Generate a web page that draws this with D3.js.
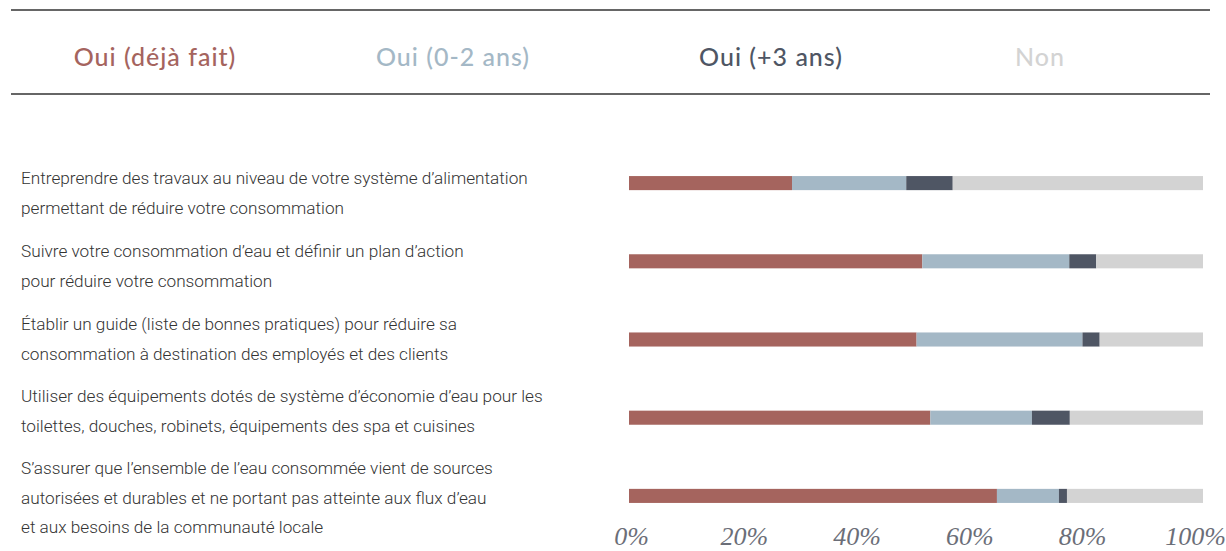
<!DOCTYPE html>
<html>
<head>
<meta charset="utf-8">
<script src="https://cdn.jsdelivr.net/npm/d3@7"></script>
<style>
  html, body { margin: 0; padding: 0; background: #ffffff; }
  svg { display: block; }
</style>
</head>
<body>
<svg id="chart" width="1226" height="551"></svg>
<script>
// ---------- data ----------
const categories = [
  ["Entreprendre des travaux au niveau de votre système d’alimentation", "permettant de réduire votre consommation"],
  ["Suivre votre consommation d’eau et définir un plan d’action", "pour réduire votre consommation"],
  ["Établir un guide (liste de bonnes pratiques) pour réduire sa", "consommation à destination des employés et des clients"],
  ["Utiliser des équipements dotés de système d’économie d’eau pour les", "toilettes, douches, robinets, équipements des spa et cuisines"],
  ["S’assurer que l’ensemble de l’eau consommée vient de sources", "autorisées et durables et ne portant pas atteinte aux flux d’eau", "et aux besoins de la communauté locale"]
];
const seriesNames = ["Oui (déjà fait)", "Oui (0-2 ans)", "Oui (+3 ans)", "Non"];
const ouiDejaFait = [28.4, 51.1, 50.1, 52.5, 64.1];
const oui02ans    = [19.9, 25.6, 28.9, 17.7, 10.8];
const oui3ans     = [8.1, 4.7, 3.0, 6.6, 1.4];
const non         = [43.6, 18.6, 18.0, 23.2, 23.7];
const tickValues  = [0, 20, 40, 60, 80, 100];
const colors      = ["#a5645e", "#a4b8c6", "#4f5664", "#d3d3d3"];

// ---------- layout ----------
const svg = d3.select("#chart");

// legend frame lines
[10, 94].forEach(yy => {
  svg.append("line").attr("x1", 11).attr("x2", 1210).attr("y1", yy).attr("y2", yy)
    .attr("stroke", "#333333").attr("stroke-width", 1.4);
});

const legendCenters = [155, 453, 771, 1040];
svg.append("g").selectAll("text").data(seriesNames).join("text")
  .attr("x", (d, i) => legendCenters[i])
  .attr("y", 66)
  .attr("text-anchor", "middle")
  .attr("font-family", "Lato, 'Open Sans', sans-serif")
  .attr("font-weight", 500)
  .attr("font-size", 25)
  .attr("letter-spacing", 1)
  .attr("fill", (d, i) => colors[i])
  .text(d => d);

// bars
const x = d3.scaleLinear().domain([0, 100]).range([629, 1203]);
const y = d3.scaleBand().domain(d3.range(categories.length)).range([144, 535]).paddingInner(0.82).paddingOuter(0.41);

const rows = categories.map((c, i) => ({
  i, values: [ouiDejaFait[i], oui02ans[i], oui3ans[i], non[i]]
}));
const stack = d3.stack().keys([0, 1, 2, 3]).value((d, k) => d.values[k]);
const stacked = stack(rows);

svg.append("g").selectAll("g").data(stacked).join("g")
  .attr("fill", (d, k) => colors[k])
  .selectAll("rect").data(d => d).join("rect")
  .attr("x", d => x(d[0]))
  .attr("width", d => Math.max(0, x(Math.min(100, d[1])) - x(d[0])))
  .attr("y", d => y(d.data.i))
  .attr("height", y.bandwidth());

// category labels
const labelStartY = [184, 257, 330, 402, 474];
const lab = svg.append("g");
categories.forEach((lines, i) => {
  const t = lab.append("text")
    .attr("x", 21)
    .attr("y", labelStartY[i])
    .attr("font-family", "Roboto, sans-serif")
    .attr("font-weight", 300)
    .attr("font-size", 17.2)
    .attr("fill", "#333333");
  lines.forEach((ln, j) => {
    t.append("tspan").attr("x", 21).attr("dy", j === 0 ? 0 : 29.5).text(ln);
  });
});

// axis
const xAxisScale = x.copy().range([631, 1195]);
const axis = d3.axisBottom(xAxisScale).tickValues(tickValues).tickSize(0).tickPadding(0)
  .tickFormat(d => d + "%");
const gAxis = svg.append("g").attr("transform", "translate(0,527)").call(axis);
gAxis.select(".domain").remove();
gAxis.selectAll("text")
  .attr("font-family", "'Liberation Serif', 'DejaVu Serif', serif")
  .attr("font-style", "italic")
  .attr("font-size", 26)
  .attr("fill", "#6b6e78");
</script>
</body>
</html>
